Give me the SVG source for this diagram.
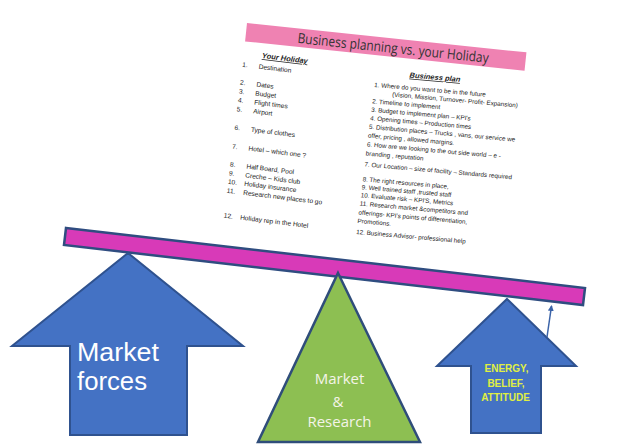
<svg xmlns="http://www.w3.org/2000/svg" width="624" height="448" viewBox="0 0 624 448">
<style>
.doc{font-family:"Liberation Sans",Arial,sans-serif;fill:#222}
.l{font-size:6.6px}
.r{font-size:6.3px}
.hd{font-size:7.5px;font-weight:bold;font-style:italic;text-decoration:underline}
.blue{fill:#4472c4;stroke:#2f528f;stroke-width:2}
.lbl{font-family:"Open Sans","Noto Sans",sans-serif}
.big{font-family:"Liberation Sans",Arial,sans-serif;font-size:25px;fill:#ffffff}
</style>
<defs>
<marker id="ah" markerWidth="6" markerHeight="6" refX="5" refY="3" orient="auto" markerUnits="userSpaceOnUse">
<path d="M0,0 L6,3 L0,6 Z" fill="#3b63a8"/>
</marker>
</defs>
<rect width="624" height="448" fill="#ffffff"/>

<g id="document" class="doc">
  <g id="banner" transform="translate(247,23) rotate(6)">
    <rect x="0" y="0" width="281" height="18.5" fill="#ef82b2"/>
    <text x="52" y="14.5" class="lbl" font-size="14" textLength="192" lengthAdjust="spacingAndGlyphs" fill="#333">Business planning vs. your Holiday</text>
  </g>
  <g id="holiday-list" transform="translate(245,67) rotate(7)">
    <text class="hd" x="38.6" y="-11" text-anchor="middle">Your Holiday</text>
    <g class="l">
      <text x="-3" y="0">1.</text><text x="13.5" y="0">Destination</text>
      <text x="-3" y="18">2.</text><text x="13.5" y="18">Dates</text>
      <text x="-3" y="27">3.</text><text x="13.5" y="27">Budget</text>
      <text x="-3" y="36">4.</text><text x="13.5" y="36">Flight times</text>
      <text x="-3" y="45">5.</text><text x="13.5" y="45">Airport</text>
      <text x="-3" y="63.5">6.</text><text x="13.5" y="63.5">Type of clothes</text>
      <text x="-3" y="82.5">7.</text><text x="13.5" y="82.5">Hotel – which one ?</text>
      <text x="-3" y="100.5">8.</text><text x="13.5" y="100.5">Half Board, Pool</text>
      <text x="-3" y="109.5">9.</text><text x="13.5" y="109.5">Creche – Kids club</text>
      <text x="-3" y="118">10.</text><text x="13.5" y="118">Holiday insurance</text>
      <text x="-3" y="127">11.</text><text x="13.5" y="127">Research new places to go</text>
      <text x="-3" y="152">12.</text><text x="13.5" y="152">Holiday rep in the Hotel</text>
    </g>
  </g>
  <g id="business-list" transform="translate(375,87) rotate(5) skewX(-2)">
    <text class="hd" x="58.4" y="-12.5" text-anchor="middle">Business plan</text>
    <g class="r">
      <text x="-1" y="0">1. Where do you want to be in the future</text>
      <text x="18" y="8">(Vision, Mission, Turnover- Profit- Expansion)</text>
      <text x="-1" y="16.5">2. Timeline to implement</text>
      <text x="-1" y="25">3. Budget to implement plan – KPI's</text>
      <text x="-1" y="33.5">4. Opening times – Production times</text>
      <text x="-1" y="42.2">5. Distribution places – Trucks , vans, our service we</text>
      <text x="-1" y="51">offer, pricing , allowed margins.</text>
      <text x="-1" y="60">6. How are we looking to the out side world – e -</text>
      <text x="-1" y="69">branding , reputation</text>
      <text x="-1" y="80">7. Our Location – size of facility – Standards required</text>
      <text x="-1" y="95">8. The right resources in place,</text>
      <text x="-1" y="103">9. Well trained staff ,trusted staff</text>
      <text x="-1" y="111">10. Evaluate risk – KPI'S, Metrics</text>
      <text x="-1" y="119.5">11. Research market &amp;competitors and</text>
      <text x="-1" y="128.5">offerings- KPI's points of differentiation,</text>
      <text x="-1" y="137">Promotions.</text>
      <text x="-1" y="148">12. Business Advisor- professional help</text>
    </g>
  </g>
</g>

<g id="beam">
  <polygon points="66,228 585,288 583,305 64,245" fill="#d83ab8" stroke="#2f4d80" stroke-width="2.5"/>
</g>

<g id="market-forces">
  <polygon class="blue" points="128,253 243,346 187,346 187,435 70,435 70,346 12,346"/>
  <text class="big" x="77" y="361" textLength="82" lengthAdjust="spacingAndGlyphs">Market</text>
  <text class="big" x="77" y="390" textLength="70" lengthAdjust="spacingAndGlyphs">forces</text>
</g>

<g id="market-research">
  <polygon points="338,273 420,442 258,442" fill="#8dbf52" stroke="#2f4d7a" stroke-width="2.5"/>
  <text class="lbl" x="339.5" y="384" font-size="15" fill="#f4f4e8" text-anchor="middle">Market</text>
  <text class="lbl" x="338" y="407" font-size="15" fill="#f4f4e8" text-anchor="middle">&amp;</text>
  <text class="lbl" x="339.5" y="427" font-size="15" fill="#f4f4e8" text-anchor="middle">Research</text>
</g>

<g id="energy">
  <polygon class="blue" points="507,299 576,366 541,366 541,433 471,433 471,366 437,366"/>
  <g font-family="'Liberation Sans',Arial,sans-serif" font-weight="bold" font-size="10" fill="#e0f042" text-anchor="middle">
    <text x="506.5" y="372">ENERGY,</text>
    <text x="506" y="387">BELIEF,</text>
    <text x="505.5" y="401">ATTITUDE</text>
  </g>
</g>

<g id="connectors">
  <line x1="547" y1="337" x2="551.5" y2="306" stroke="#3b63a8" stroke-width="1.5" marker-end="url(#ah)"/>
</g>
</svg>
